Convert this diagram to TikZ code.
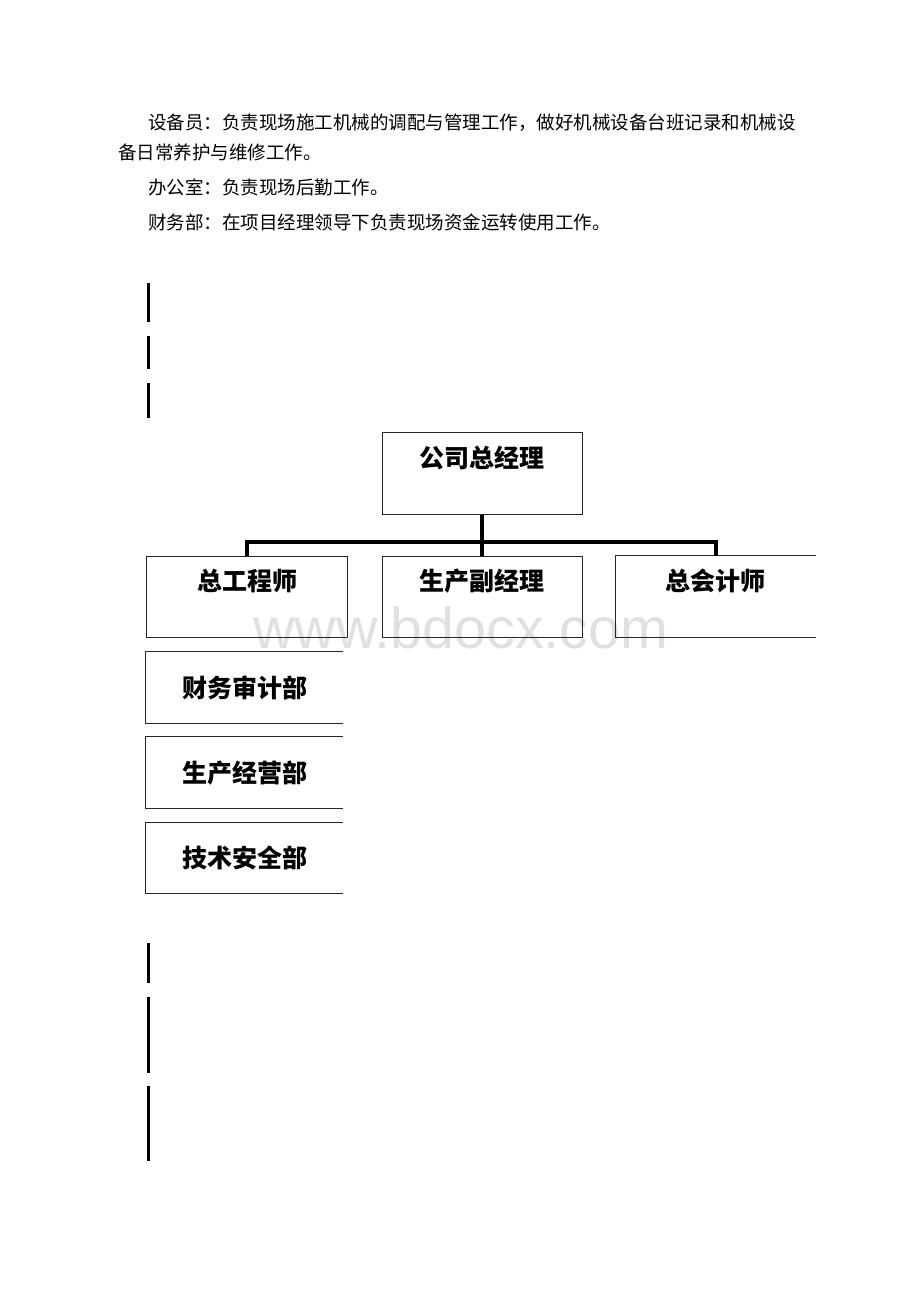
\documentclass[tikz,border=0pt]{standalone}
\usepackage{fontspec}
\newfontfamily\cjk{Noto Sans CJK SC}
\newfontfamily\wmfont{Liberation Sans}
\begin{document}
\begin{tikzpicture}[x=1pt,y=-1pt,
  body/.style={anchor=west,inner sep=0pt,font=\cjk\fontsize{18.5}{22}\selectfont},
  title/.style={inner sep=0pt,font=\cjk\bfseries\fontsize{25}{28}\selectfont},
  box/.style={draw=black!85,line width=1pt,minimum width=200pt,minimum height=82pt,inner sep=0pt},
  openbox/.style={minimum width=197pt,minimum height=71pt,inner sep=0pt},
  edge/.style={draw=black!85,line width=1pt},
  conn/.style={line width=3.5pt,black},
  bar/.style={line width=3pt,black}
]
\useasboundingbox (0,0) rectangle (920,1302);
% watermark
\node[anchor=base west,inner sep=0pt,text=black!12,font=\wmfont\fontsize{57.5}{60}\selectfont] (wm) at (253,648) {www.bdocx.com};
% body text
\node[body] (t1) at (148,123) {设备员：负责现场施工机械的调配与管理工作，做好机械设备台班记录和机械设};
\node[body] (t2) at (118,152) {备日常养护与维修工作。};
\node[body] (t3) at (148,187) {办公室：负责现场后勤工作。};
\node[body] (t4) at (148,222) {财务部：在项目经理领导下负责现场资金运转使用工作。};
% vertical bars
\draw[bar] (148,283) -- (148,322);
\draw[bar] (148,336) -- (148,369);
\draw[bar] (148,383) -- (148,418);
\draw[bar] (148,943) -- (148,983);
\draw[bar] (148,997) -- (148,1073);
\draw[bar] (148,1086) -- (148,1161);
% org chart boxes
\node[box] (gm) at (482,473) {};
\node[title] (gmt) at (482,458) {公司总经理};
\node[box,minimum width=201pt,minimum height=81pt] (ce) at (246.5,596.5) {};
\node[title] (cet) at (247,581) {总工程师};
\node[box,minimum height=81pt] (vp) at (482,596.5) {};
\node[title] (vpt) at (482,581) {生产副经理};
\node[openbox,minimum width=200pt,minimum height=81pt] (ca) at (716,596.5) {};
\draw[edge] (ca.north east) -- (ca.north west) -- (ca.south west) -- (ca.south east);
\node[title] (cat) at (715,581) {总会计师};
\node[openbox] (d1) at (244.5,687.5) {};
\draw[edge] (d1.north east) -- (d1.north west) -- (d1.south west) -- (d1.south east);
\node[title] (d1t) at (245,688) {财务审计部};
\node[openbox] (d2) at (244.5,772.5) {};
\draw[edge] (d2.north east) -- (d2.north west) -- (d2.south west) -- (d2.south east);
\node[title] (d2t) at (245,773) {生产经营部};
\node[openbox] (d3) at (244.5,858) {};
\draw[edge] (d3.north east) -- (d3.north west) -- (d3.south west) -- (d3.south east);
\node[title] (d3t) at (245,858) {技术安全部};
% connectors
\coordinate (busL) at (247,542);
\coordinate (busR) at (716,542);
\draw[conn] (gm.south) -- (gm.south |- busL);
\draw[conn] ([xshift=-1.75pt]busL) -- ([xshift=1.75pt]busR);
\draw[conn] (busL) -- (busL |- ce.north);
\draw[conn] (gm.south |- busL) -- (vp.north);
\draw[conn] (busR) -- (busR |- ca.north);
\end{tikzpicture}
\end{document}
